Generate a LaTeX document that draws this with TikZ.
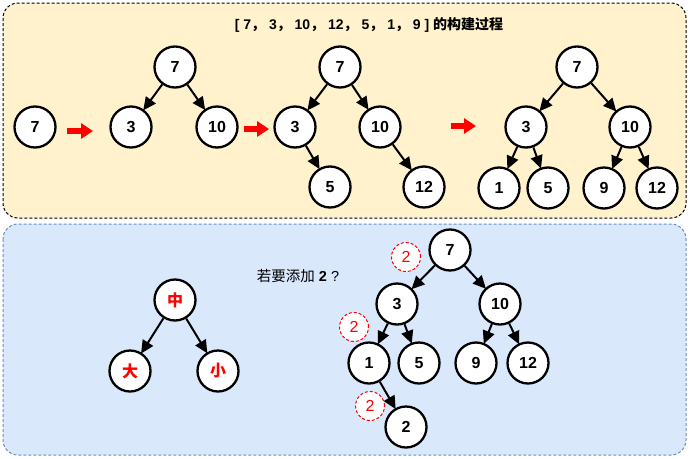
\documentclass[tikz,border=0pt]{standalone}
\usepackage{fontspec}
\setmainfont{Liberation Sans}
\newfontfamily\cjk{Noto Sans CJK SC}
\usetikzlibrary{arrows.meta}

\definecolor{panelA}{HTML}{FFF2CC}
\definecolor{panelB}{HTML}{DAE8FC}
\definecolor{lineB}{HTML}{6C8EBF}

\begin{document}
\begin{tikzpicture}[x=1pt, y=-1pt,
	num/.style={circle, draw, line width=2.3pt, fill=white, minimum size=41pt, inner sep=0pt, font=\fontsize{16}{16}\selectfont\bfseries},
	edge/.style={-{Triangle[length=13pt,width=12pt]}, line width=2pt, shorten >=-1pt},
	hint/.style={circle, draw=red, dash pattern=on 3pt off 2pt, line width=1pt, fill=white, minimum size=29pt, inner sep=0pt, text=red, font=\fontsize{16}{16}\selectfont},
	redarrow/.style={red, line width=6pt, -{Triangle[length=12pt,width=15pt]}}]
	\useasboundingbox (0,0) rectangle (690,458);

	% panels
	\draw[fill=panelA, dash pattern=on 3pt off 2pt, line width=1pt, rounded corners=15pt] (3,3) rectangle (686,218);
	\draw[draw=lineB, fill=panelB, dash pattern=on 3pt off 2pt, line width=1pt, rounded corners=15pt] (3,224) rectangle (686,455);

	\node[font=\fontsize{14}{14}\selectfont\bfseries] (title) at (369,25) {[\ 7{\cjk ，}\ 3{\cjk ，}\ 10{\cjk ，}\ 12{\cjk ，}\ 5{\cjk ，}\ 1{\cjk ，}\ 9\ ] {\cjk 的构建过程}};

	% step 0
	\node[num] (a7) at (35,127) {7};
	\coordinate (s1) at (67,131);
	\coordinate (e1) at (93,131);
	\draw[redarrow] (s1) -- (e1);

	% step 1
	\node[num] (b7) at (175,67) {7};
	\node[num] (b3) at (131,127) {3};
	\node[num] (b10) at (217,127) {10};
	\draw[edge] (b7) -- (b3);
	\draw[edge] (b7) -- (b10);
	\coordinate (s2) at (244,129);
	\coordinate (e2) at (269,129);
	\draw[redarrow] (s2) -- (e2);

	% step 2
	\node[num] (c7) at (340,67) {7};
	\node[num] (c3) at (295,127) {3};
	\node[num] (c10) at (380,127) {10};
	\node[num] (c5) at (330,187) {5};
	\node[num] (c12) at (424,187) {12};
	\draw[edge] (c7) -- (c3);
	\draw[edge] (c7) -- (c10);
	\draw[edge] (c3) -- (c5);
	\draw[edge] (c10) -- (c12);
	\coordinate (s3) at (451,126);
	\coordinate (e3) at (476,126);
	\draw[redarrow] (s3) -- (e3);

	% step 3
	\node[num] (d7) at (577,67) {7};
	\node[num] (d3) at (526,127) {3};
	\node[num] (d10) at (630,127) {10};
	\node[num] (d1) at (499,188) {1};
	\node[num] (d5) at (548,188) {5};
	\node[num] (d9) at (604,188) {9};
	\node[num] (d12) at (657,188) {12};
	\draw[edge] (d7) -- (d3);
	\draw[edge] (d7) -- (d10);
	\draw[edge] (d3) -- (d1);
	\draw[edge] (d3) -- (d5);
	\draw[edge] (d10) -- (d9);
	\draw[edge] (d10) -- (d12);

	% order
	\node[num, text=red, font=\fontsize{16}{16}\selectfont\cjk\bfseries] (mid) at (175,300) {中};
	\node[num, text=red, font=\fontsize{16}{16}\selectfont\cjk\bfseries] (big) at (130,371) {大};
	\node[num, text=red, font=\fontsize{16}{16}\selectfont\cjk\bfseries] (small) at (218,371) {小};
	\draw[edge] (mid) -- (big);
	\draw[edge] (mid) -- (small);

	\node[font=\fontsize{14.5}{14.5}\selectfont] (ask) at (298,276) {{\cjk 若要添加} \textbf{2} ?};

	% insert 2
	\node[num] (f7) at (450,250) {7};
	\node[num] (f3) at (397,304) {3};
	\node[num] (f10) at (500,304) {10};
	\node[num] (f1) at (369,363) {1};
	\node[num] (f5) at (419,363) {5};
	\node[num] (f9) at (476,363) {9};
	\node[num] (f12) at (528,363) {12};
	\node[num] (f2) at (406,427) {2};
	\draw[edge] (f7) -- (f3);
	\draw[edge] (f7) -- (f10);
	\draw[edge] (f3) -- (f1);
	\draw[edge] (f3) -- (f5);
	\draw[edge] (f10) -- (f9);
	\draw[edge] (f10) -- (f12);
	\draw[edge] (f1) -- (f2);

	\node[hint] (h1) at (406,257) {2};
	\node[hint] (h2) at (354,327) {2};
	\node[hint] (h3) at (370,406) {2};
\end{tikzpicture}
\end{document}
